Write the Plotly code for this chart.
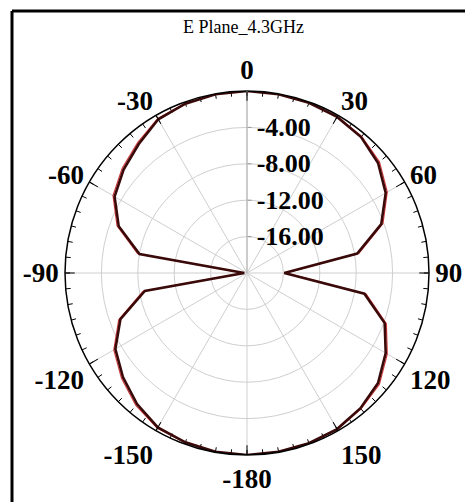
import plotly.graph_objects as go

# ---- data ----
theta_deg = [-180, -170, -160, -150, -140, -130, -120, -110, -100, -90,
             -80, -70, -60, -50, -40, -30, -20, -10, 0,
             10, 20, 30, 40, 50, 60, 70, 80, 90,
             100, 110, 120, 130, 140, 150, 160, 170, 180]
measured_db = [0.0, -0.05, -0.2, -0.4, -1.2, -2.2, -3.3, -5.2, -8.6, -19.7,
               -8.0, -5.0, -3.2, -2.3, -1.5, -0.5, -0.2, -0.05, 0.0,
               -0.05, -0.1, -0.2, -0.5, -1.2, -2.4, -4.3, -7.7, -15.9,
               -6.9, -3.9, -2.4, -1.2, -0.6, -0.2, -0.1, -0.05, 0.0]
simulated_db = [0.0, -0.05, -0.15, -0.3, -1.0, -2.0, -3.1, -5.0, -8.4, -19.5,
                -7.8, -4.8, -3.0, -2.1, -1.3, -0.4, -0.15, -0.05, 0.0,
                -0.05, -0.1, -0.15, -0.4, -1.0, -2.2, -4.1, -7.5, -15.7,
                -6.7, -3.7, -2.2, -1.0, -0.5, -0.15, -0.1, -0.05, 0.0]

radial_ticks = [-16, -12, -8, -4]
radial_labels = ["-16.00", "-12.00", "-8.00", "-4.00"]
angle_ticks = [0, 30, 60, 90, 120, 150, 180, 210, 240, 270, 300, 330]
angle_labels = ["0", "30", "60", "90", "120", "150", "-180", "-150", "-120", "-90", "-60", "-30"]
minor_angles = list(range(0, 360, 5))
r_min, r_max = -20, 0
minor_len = 0.55

fig = go.Figure()

# minor ticks on the outer circle
mt_r, mt_t = [], []
for a in minor_angles:
    mt_r += [r_max - minor_len, r_max, None]
    mt_t += [a, a, None]
fig.add_trace(go.Scatterpolar(r=mt_r, theta=mt_t, mode="lines",
                              line=dict(color="black", width=1),
                              hoverinfo="skip", showlegend=False))

fig.add_trace(go.Scatterpolar(r=simulated_db, theta=theta_deg, mode="lines",
                              line=dict(color="#d03a3a", width=1.2),
                              showlegend=False, name="Simulated"))
fig.add_trace(go.Scatterpolar(r=measured_db, theta=theta_deg, mode="lines",
                              line=dict(color="#3a0a0a", width=2.6),
                              showlegend=False, name="Measured"))

W, H = 465, 502
cx, cy, R = 247, 273, 182
fig.update_layout(
    width=W, height=H,
    margin=dict(l=0, r=0, t=0, b=0),
    paper_bgcolor="white",
    font=dict(family="Liberation Serif", color="black"),
    polar=dict(
        domain=dict(x=[(cx - R) / W, (cx + R) / W],
                    y=[(H - cy - R) / H, (H - cy + R) / H]),
        bgcolor="white",
        angularaxis=dict(
            rotation=90, direction="clockwise",
            tickmode="array", tickvals=angle_ticks, ticktext=angle_labels,
            ticks="inside", ticklen=9, tickwidth=1, tickcolor="black",
            linecolor="black", linewidth=1.5, showline=True,
            gridcolor="#cfcfcf", gridwidth=1,
            tickfont=dict(family="Liberation Serif", size=27, color="black",
                          weight="bold"),
        ),
        radialaxis=dict(
            range=[r_min, r_max], angle=90, side="clockwise", tickangle=90,
            tickmode="array", tickvals=radial_ticks, ticktext=radial_labels,
            showline=True, linecolor="#b0b0b0", linewidth=1,
            ticks="outside", ticklen=4, tickcolor="#999999",
            gridcolor="#cfcfcf", gridwidth=1,
            tickfont=dict(family="Liberation Serif", size=26, color="black",
                          weight="bold"),
        ),
    ),
    annotations=[dict(text="E Plane_4.3GHz", x=243 / W, y=1 - 27 / H,
                      xref="paper", yref="paper", xanchor="center", yanchor="middle",
                      showarrow=False,
                      font=dict(family="Liberation Serif", size=18, color="black"))],
    shapes=[
        dict(type="line", xref="paper", yref="paper", x0=12 / W, x1=1, y0=1 - 11 / H, y1=1 - 11 / H,
             line=dict(color="black", width=3)),
        dict(type="line", xref="paper", yref="paper", x0=12 / W, x1=12 / W, y0=0, y1=1 - 11 / H,
             line=dict(color="black", width=3)),
    ],
)

fig.write_html("out.html", config={"displayModeBar": False},
               post_script="document.body.style.margin='0';document.body.style.overflow='hidden';")
